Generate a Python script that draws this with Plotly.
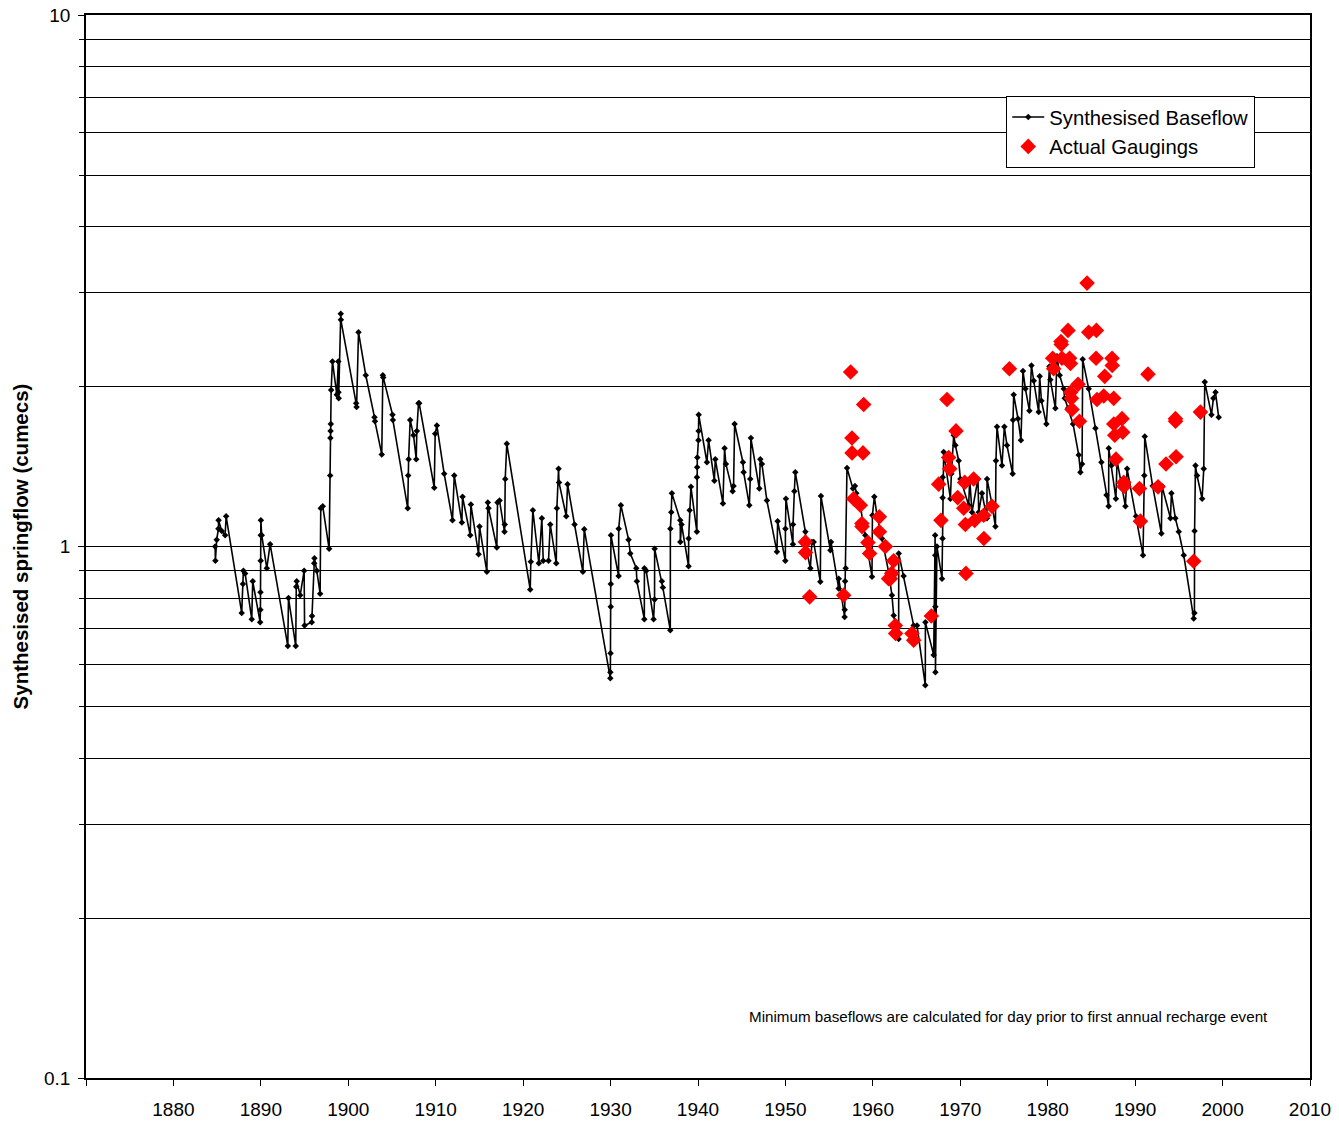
import plotly.graph_objects as go

# Synthesised baseflow (year, cumecs)
base_year = [
    1884.77, 1884.80, 1884.95, 1885.15, 1885.16, 1885.53, 1885.91, 1886.03,
    1887.81, 1887.95, 1888.00, 1888.20, 1888.96, 1889.07, 1889.92, 1889.95,
    1889.96, 1889.98, 1889.99, 1890.00, 1890.10, 1890.68, 1891.06,
    1893.08, 1893.16, 1893.99, 1894.05, 1894.10, 1894.50, 1894.95, 1895.00,
    1895.82, 1895.85, 1896.10, 1896.13, 1896.40, 1896.78, 1896.85, 1897.08,
    1897.81, 1897.93, 1897.95, 1897.97, 1898.00, 1898.04, 1898.19, 1898.69,
    1898.86, 1898.88, 1898.90, 1899.14, 1899.15,
    1900.90, 1900.95, 1901.17, 1902.00, 1903.00, 1903.05, 1903.83, 1903.95,
    1904.00, 1905.06, 1905.10, 1906.80, 1906.85, 1906.90, 1907.08, 1907.46,
    1907.77, 1907.84, 1908.03, 1908.11, 1909.83, 1909.94, 1910.13, 1910.97,
    1911.92, 1912.12, 1912.99, 1913.07, 1913.95, 1914.02, 1914.90, 1915.01,
    1915.85, 1915.96, 1916.04, 1916.99, 1917.07, 1917.30, 1917.87, 1917.90,
    1917.95, 1918.13, 1920.81, 1920.88, 1921.11, 1921.80, 1922.14, 1922.30,
    1922.90, 1923.10, 1923.79, 1923.86, 1924.05, 1924.10, 1924.93, 1925.08,
    1925.88, 1926.83, 1926.99, 1929.97, 1929.98, 1930.00, 1930.02, 1930.03,
    1930.04, 1930.92, 1930.93, 1931.18, 1932.06, 1932.26, 1932.94, 1933.01,
    1933.86, 1933.87, 1934.08, 1934.92, 1935.03, 1935.04, 1935.87, 1935.98,
    1936.83, 1936.84, 1936.94, 1937.01, 1937.97, 1937.98, 1938.12, 1938.92,
    1938.93, 1939.04, 1939.19, 1939.87, 1939.88, 1939.90, 1939.92, 1940.05,
    1940.07, 1940.08, 1941.02, 1941.21, 1941.87, 1941.98, 1942.85, 1943.04,
    1943.19, 1943.96, 1944.07, 1944.19, 1945.14, 1945.22, 1945.87, 1945.98,
    1946.05, 1947.01, 1947.13, 1947.31, 1947.88, 1949.03, 1949.11, 1949.99,
    1950.00, 1950.06, 1950.86, 1950.87, 1951.02, 1951.13, 1952.28, 1952.39,
    1952.85, 1953.03, 1953.23, 1953.99, 1954.06, 1955.14, 1955.21, 1956.09,
    1956.10, 1956.77, 1956.78, 1956.82, 1956.89, 1957.04, 1957.72, 1957.95,
    1958.10, 1958.57, 1958.95, 1959.14, 1959.90, 1959.95, 1960.17, 1960.47,
    1961.04, 1961.80, 1962.18, 1962.38, 1962.70, 1962.95, 1962.96, 1963.52,
    1964.67, 1965.05, 1966.00, 1966.01, 1966.96, 1967.12, 1967.14, 1967.15,
    1967.16, 1967.33, 1967.91, 1967.97, 1967.98, 1967.99, 1968.10, 1968.87,
    1968.98, 1969.25, 1969.44, 1969.82, 1970.01, 1970.96, 1971.08, 1971.34,
    1972.02, 1972.11, 1972.48, 1973.05, 1973.06, 1973.63, 1974.02, 1974.08,
    1974.20, 1974.77, 1975.04, 1975.34, 1975.99, 1976.03, 1976.11, 1976.60,
    1976.94, 1977.17, 1977.45, 1977.91, 1978.14, 1978.40, 1978.97, 1979.08,
    1979.28, 1979.85, 1980.20, 1980.30, 1980.88, 1981.06, 1981.37, 1981.83,
    1981.94, 1982.32, 1982.90, 1983.55, 1983.74, 1983.93, 1984.00, 1984.69,
    1985.46, 1986.14, 1986.72, 1986.97, 1986.98, 1987.29, 1987.80, 1987.93,
    1988.89, 1989.08, 1990.10, 1990.90, 1991.05, 1991.10, 1992.00, 1993.00,
    1993.07, 1994.04, 1994.15, 1994.60, 1994.99, 1995.56, 1996.70, 1996.78,
    1996.80, 1996.90, 1997.08, 1997.66, 1997.85, 1997.96, 1998.73, 1998.95,
    1999.19, 1999.56,
]
base_flow = [
    1.00, 0.94, 1.03, 1.08, 1.12, 1.07, 1.05, 1.14,
    0.75, 0.85, 0.90, 0.89, 0.73, 0.86, 0.72, 0.76,
    0.82, 0.94, 1.05, 1.12, 1.05, 0.91, 1.01,
    0.65, 0.80, 0.65, 0.84, 0.86, 0.81, 0.90, 0.71,
    0.72, 0.74, 0.93, 0.95, 0.90, 0.815, 1.18, 1.19,
    0.99, 1.36, 1.60, 1.65, 1.70, 1.97, 2.23, 1.93,
    2.23, 1.95, 1.90, 2.74, 2.67,
    1.86, 1.83, 2.53, 2.10, 1.75, 1.72, 1.49, 2.10,
    2.08, 1.77, 1.73, 1.18, 1.36, 1.46, 1.73, 1.62,
    1.46, 1.65, 1.86, 1.86, 1.29, 1.63, 1.69, 1.37,
    1.12, 1.36, 1.11, 1.24, 1.05, 1.20, 0.967, 1.09,
    0.896, 1.21, 1.18, 0.996, 1.21, 1.22, 1.066, 1.10,
    1.34, 1.56, 0.83, 0.936, 1.17, 0.93, 1.13, 0.94,
    0.94, 1.10, 0.93, 1.18, 1.40, 1.32, 1.14, 1.31,
    1.10, 0.896, 1.078, 0.565, 0.58, 0.63, 0.77, 0.85,
    1.05, 0.88, 1.08, 1.196, 1.03, 0.97, 0.91, 0.86,
    0.73, 0.91, 0.90, 0.73, 0.795, 0.99, 0.86, 0.837,
    0.696, 1.08, 1.16, 1.26, 1.12, 1.02, 1.10, 0.918,
    1.035, 1.17, 1.295, 1.066, 1.35, 1.41, 1.47, 1.585,
    1.65, 1.77, 1.44, 1.585, 1.33, 1.46, 1.205, 1.53,
    1.43, 1.27, 1.30, 1.70, 1.44, 1.38, 1.196, 1.34,
    1.60, 1.285, 1.46, 1.43, 1.22, 0.977, 1.116, 0.94,
    1.08, 1.23, 1.01, 1.10, 1.27, 1.38, 1.066, 0.99,
    0.91, 1.02, 1.02, 0.858, 1.245, 0.984, 1.02, 0.834,
    0.87, 0.737, 0.76, 0.86, 0.91, 1.405, 1.285, 1.30,
    1.26, 1.20, 1.08, 1.05, 0.877, 1.145, 1.24, 1.145,
    1.035, 0.896, 0.81, 0.742, 0.70, 0.67, 0.97, 0.88,
    0.71, 0.71, 0.548, 0.72, 0.625, 1.05, 0.963, 0.77,
    0.58, 1.00, 0.87, 1.035, 1.235, 1.35, 1.506, 1.23,
    1.37, 1.62, 1.55, 1.45, 1.34, 1.196, 1.34, 1.16,
    1.34, 1.16, 1.26, 1.13, 1.34, 1.20, 1.09, 1.45,
    1.68, 1.42, 1.68, 1.55, 1.37, 1.73, 1.93, 1.74,
    1.585, 2.14, 1.98, 1.80, 2.19, 2.05, 1.79, 2.09,
    1.88, 1.70, 2.18, 2.06, 1.82, 2.28, 2.10, 1.98,
    1.90, 1.82, 1.70, 1.486, 1.38, 1.43, 2.25, 1.98,
    1.67, 1.44, 1.25, 1.19, 1.53, 1.42, 1.23, 1.45,
    1.19, 1.40, 1.14, 0.963, 1.36, 1.61, 1.30, 1.058,
    1.30, 1.13, 1.26, 1.13, 1.066, 0.963, 0.732, 0.75,
    1.07, 1.42, 1.36, 1.23, 1.40, 2.04, 1.77, 1.90,
    1.95, 1.75,
]

# Actual gaugings (year, cumecs)
gauge_year = [
    1952.28, 1952.30, 1952.77, 1956.66, 1957.46, 1957.61, 1957.62, 1957.80,
    1958.57, 1958.75, 1958.76, 1958.87, 1958.95, 1959.44, 1959.63, 1960.74,
    1960.75, 1961.43, 1961.80, 1962.00, 1962.15, 1962.38, 1962.57, 1962.60,
    1964.47, 1964.67, 1966.69, 1967.53, 1967.79, 1968.48, 1968.67, 1968.79,
    1969.51, 1969.70, 1970.39, 1970.50, 1970.58, 1970.65, 1971.53, 1971.65,
    1972.68, 1972.70, 1973.63, 1975.62, 1980.57, 1980.68, 1981.52, 1981.55,
    1981.63, 1982.32, 1982.50, 1982.60, 1982.62, 1982.71, 1982.78, 1983.47,
    1983.63, 1984.50, 1984.69, 1985.53, 1985.57, 1985.64, 1986.41, 1986.52,
    1987.36, 1987.38, 1987.55, 1987.56, 1987.67, 1987.81, 1988.50, 1988.58,
    1988.70, 1988.72, 1990.49, 1990.60, 1991.47, 1992.62, 1993.53, 1994.61,
    1994.62, 1994.68, 1996.70, 1997.47,
]
gauge_flow = [
    1.02, 0.974, 0.804, 0.81, 2.13, 1.60, 1.50, 1.23,
    1.196, 1.105, 1.09, 1.50, 1.85, 1.017, 0.97, 1.137,
    1.066, 1.00, 0.87, 0.87, 0.89, 0.94, 0.71, 0.686,
    0.686, 0.666, 0.74, 1.31, 1.12, 1.89, 1.47, 1.40,
    1.65, 1.236, 1.18, 1.32, 1.10, 0.89, 1.34, 1.12,
    1.145, 1.035, 1.19, 2.16, 2.26, 2.16, 2.43, 2.40,
    2.26, 2.55, 2.26, 2.21, 1.95, 1.90, 1.81, 2.02,
    1.72, 3.13, 2.53, 2.26, 2.55, 1.89, 1.92, 2.09,
    2.26, 2.19, 1.90, 1.70, 1.62, 1.46, 1.74, 1.64,
    1.32, 1.297, 1.285, 1.116, 2.11, 1.295, 1.43, 1.74,
    1.72, 1.475, 0.938, 1.79,
]

x_ticks = list(range(1870, 2011, 10))
x_labels = ["" if v == 1870 else str(v) for v in x_ticks]
y_major = [0.1, 1, 10]
y_major_labels = ["0.1", "1", "10"]
y_minor = [0.2, 0.3, 0.4, 0.5, 0.6, 0.7, 0.8, 0.9, 2, 3, 4, 5, 6, 7, 8, 9]

FONT = "Liberation Sans, Arial, sans-serif"

fig = go.Figure()
fig.add_trace(go.Scatter(
    x=base_year, y=base_flow, mode="lines+markers",
    name="Synthesised Baseflow",
    line=dict(color="black", width=1.6),
    marker=dict(symbol="diamond", size=5, color="black"),
))
fig.add_trace(go.Scatter(
    x=gauge_year, y=gauge_flow, mode="markers",
    name="Actual Gaugings",
    marker=dict(symbol="diamond", size=12, color="#FF0000"),
))

fig.update_layout(
    width=1339, height=1122,
    margin=dict(l=86, r=29, t=15, b=44, autoexpand=False),
    paper_bgcolor="white", plot_bgcolor="white",
    font=dict(family=FONT, size=19, color="black"),
    showlegend=True,
    legend=dict(
        x=0.7516, y=0.9238, xanchor="left", yanchor="top",
        bgcolor="white", bordercolor="black", borderwidth=1.3,
        font=dict(size=20.3, family=FONT), tracegroupgap=0,
        itemwidth=32,
    ),
    annotations=[dict(
        text="Minimum baseflows are calculated for day prior to first annual recharge event",
        x=0.754, y=0.0574, xref="paper", yref="paper",
        showarrow=False, font=dict(size=15.2, family=FONT, color="black"),
        xanchor="center", yanchor="middle",
    )],
)

fig.update_xaxes(
    range=[1870, 2010], tickvals=x_ticks, ticktext=x_labels,
    ticks="outside", ticklen=6, tickwidth=1.3, tickcolor="black",
    ticklabelstandoff=7,
    showline=True, linecolor="black", linewidth=1.5, mirror=True,
    showgrid=False, zeroline=False,
    tickfont=dict(size=19, family=FONT),
)
fig.update_yaxes(
    type="log", range=[-1, 1],
    tickvals=y_major, ticktext=y_major_labels,
    ticks="outside", ticklen=6, tickwidth=1.3, tickcolor="black",
    ticklabelstandoff=4, ticklabeloverflow="allow",
    showline=True, linecolor="black", linewidth=1.5, mirror=True,
    showgrid=True, gridcolor="black", gridwidth=1.3,
    minor=dict(tickvals=y_minor, ticks="outside", ticklen=5, tickwidth=1.3,
               tickcolor="black", showgrid=True, gridcolor="black", gridwidth=1.3),
    zeroline=False,
    tickfont=dict(size=19, family=FONT),
    title=dict(text="<b>Synthesised springflow (cumecs)</b>",
               font=dict(size=20.5, family=FONT), standoff=10),
)

# remove the default page margin so the figure fills the window exactly
fig.write_html("out.html", config={"displayModeBar": False},
               post_script="document.body.style.margin='0';")
